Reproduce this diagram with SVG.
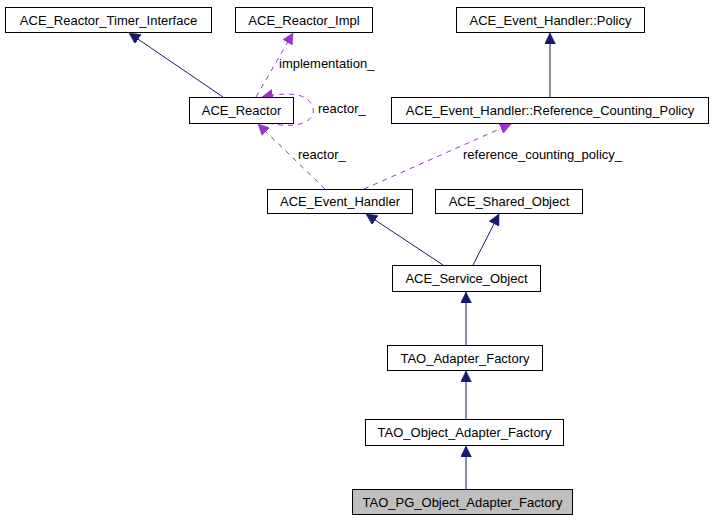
<svg xmlns="http://www.w3.org/2000/svg" width="713" height="528" viewBox="0 0 713 528">
<style>
.box{fill:#ffffff;stroke:#000000;stroke-width:1}
.sel{fill:#bfbfbf;stroke:#000000;stroke-width:1}
.t{font-family:"Liberation Sans",Arial,sans-serif;font-size:13px;fill:#000000;text-anchor:middle}
.lbl{font-family:"Liberation Sans",Arial,sans-serif;font-size:13px;fill:#000000}
.inh{fill:none;stroke:#191970;stroke-width:1;marker-end:url(#an)}
.use{fill:none;stroke:#9a32cd;stroke-width:1;stroke-dasharray:5,5;marker-end:url(#ap)}
</style>
<defs>
<marker id="an" viewBox="0 0 11 11" refX="11" refY="5.5" markerWidth="11" markerHeight="11" markerUnits="userSpaceOnUse" orient="auto">
<polygon points="0,0 11,5.5 0,11" fill="#191970" stroke="#191970" stroke-width="0.5"/>
</marker>
<marker id="ap" viewBox="0 0 11 11" refX="11" refY="5.5" markerWidth="11" markerHeight="11" markerUnits="userSpaceOnUse" orient="auto">
<polygon points="0,0 11,5.5 0,11" fill="#9a32cd" stroke="#9a32cd" stroke-width="0.5"/>
</marker>
</defs>
<rect width="713" height="528" fill="#ffffff"/>
<g id="connectors">
<path class="inh" d="M223,97 L129,33"/>
<path class="use" d="M256,97 L293,33"/>
<path class="use" d="M268,123 C300,130 316,120 313,108 C310,96 295,90 262,97"/>
<path class="use" d="M325,189 L258,124"/>
<path class="use" d="M364,189 L511,124"/>
<path class="inh" d="M550,97 L550,33"/>
<path class="inh" d="M443,265 L366,214"/>
<path class="inh" d="M473,265 L499,214"/>
<path class="inh" d="M466,345 L466,292"/>
<path class="inh" d="M466,419 L466,371"/>
<path class="inh" d="M466,489 L466,446"/>
<text class="lbl" x="279" y="68">implementation_</text>
<text class="lbl" x="318" y="113">reactor_</text>
<text class="lbl" x="298" y="159">reactor_</text>
<text class="lbl" x="463" y="159">reference_counting_policy_</text>
</g>
<g id="n_timer"><rect class="box" x="5.5" y="7.5" width="206" height="25"/><text class="t" x="108.5" y="24.5">ACE_Reactor_Timer_Interface</text></g>
<g id="n_impl"><rect class="box" x="235.5" y="7.5" width="137" height="25"/><text class="t" x="304" y="24.5">ACE_Reactor_Impl</text></g>
<g id="n_policy"><rect class="box" x="456.5" y="7.5" width="188" height="25"/><text class="t" x="550.5" y="24.5">ACE_Event_Handler::Policy</text></g>
<g id="n_reactor"><rect class="box" x="189.5" y="97.5" width="104" height="26"/><text class="t" x="241.5" y="115">ACE_Reactor</text></g>
<g id="n_refcount"><rect class="box" x="391.5" y="97.5" width="317" height="26"/><text class="t" x="550" y="115">ACE_Event_Handler::Reference_Counting_Policy</text></g>
<g id="n_evh"><rect class="box" x="267.5" y="189.5" width="145" height="24"/><text class="t" x="340" y="206">ACE_Event_Handler</text></g>
<g id="n_shared"><rect class="box" x="435.5" y="189.5" width="147" height="24"/><text class="t" x="509" y="206">ACE_Shared_Object</text></g>
<g id="n_service"><rect class="box" x="392.5" y="265.5" width="148" height="26"/><text class="t" x="466.5" y="283">ACE_Service_Object</text></g>
<g id="n_adapter"><rect class="box" x="387.5" y="345.5" width="155" height="25"/><text class="t" x="465" y="362.5">TAO_Adapter_Factory</text></g>
<g id="n_objadapter"><rect class="box" x="365.5" y="419.5" width="198" height="26"/><text class="t" x="464.5" y="437">TAO_Object_Adapter_Factory</text></g>
<g id="n_pg"><rect class="sel" x="352.5" y="489.5" width="220" height="25"/><text class="t" x="462.5" y="506.5">TAO_PG_Object_Adapter_Factory</text></g>
</svg>
